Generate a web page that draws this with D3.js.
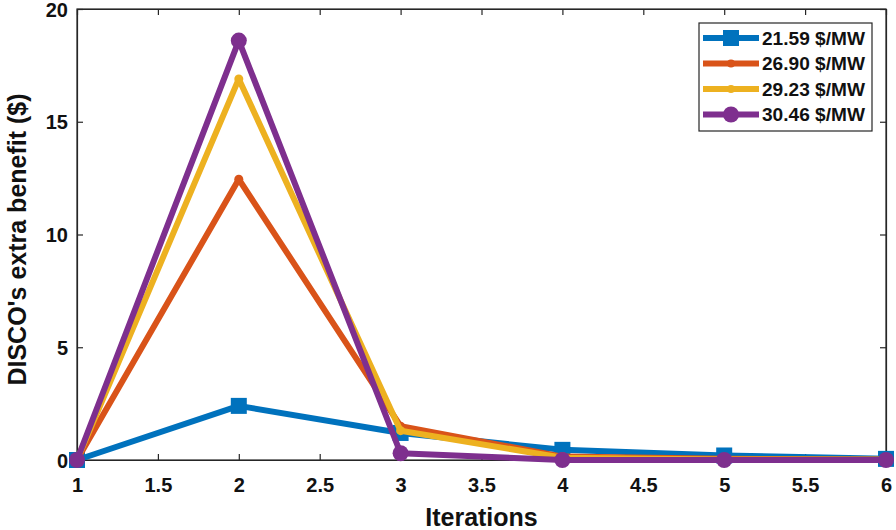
<!DOCTYPE html>
<html><head><meta charset="utf-8">
<script src="https://cdn.jsdelivr.net/npm/d3@7"></script>
<style>body{margin:0;background:#fff}svg{display:block}</style>
</head><body>
<svg id="c" width="896" height="530"></svg>
<script>
const iterations = [1, 2, 3, 4, 5, 6];
const seriesNames = ["21.59 $/MW", "26.90 $/MW", "29.23 $/MW", "30.46 $/MW"];
const s21_59 = [0, 2.4, 1.2, 0.45, 0.2, 0.05];
const s26_90 = [0, 12.45, 1.5, 0.15, 0.05, 0.02];
const s29_23 = [0, 16.9, 1.3, 0.1, 0.02, 0.01];
const s30_46 = [0, 18.6, 0.3, 0, 0, 0];
const xTicks = [1, 1.5, 2, 2.5, 3, 3.5, 4, 4.5, 5, 5.5, 6];
const yTicks = [0, 5, 10, 15, 20];
const colors = ["#0072BD", "#D95319", "#EDB120", "#7E2F8E"];
const markers = ["square", "dot", "dot", "circle"];
const allSeries = [s21_59, s26_90, s29_23, s30_46];

const svg = d3.select("#c");
const L = 77, R = 886, T = 9, B = 460;
const x = d3.scaleLinear().domain([1, 6]).range([L, R]);
const y = d3.scaleLinear().domain([0, 20]).range([B, T]);
const font = "'Liberation Sans', Arial, sans-serif";

// box
svg.append("rect").attr("x", L).attr("y", T).attr("width", R - L).attr("height", B - T)
  .attr("fill", "none").attr("stroke", "#262626").attr("stroke-width", 1.2);

// axes (inward ticks)
const xa = svg.append("g").attr("transform", `translate(0,${B})`)
  .call(d3.axisBottom(x).tickValues(xTicks).tickSizeInner(-6).tickSizeOuter(0).tickPadding(18).tickFormat(d3.format("")));
const xt = svg.append("g").attr("transform", `translate(0,${T})`)
  .call(d3.axisTop(x).tickValues(xTicks).tickSizeInner(-6).tickSizeOuter(0).tickFormat(""));
const ya = svg.append("g").attr("transform", `translate(${L},0)`)
  .call(d3.axisLeft(y).tickValues(yTicks).tickSizeInner(-6).tickSizeOuter(0).tickPadding(9));
const yr = svg.append("g").attr("transform", `translate(${R},0)`)
  .call(d3.axisRight(y).tickValues(yTicks).tickSizeInner(-6).tickSizeOuter(0).tickFormat(""));
[xa, xt, ya, yr].forEach(g => {
  g.select(".domain").attr("stroke", "#262626").attr("stroke-width", 1.2);
  g.selectAll(".tick line").attr("stroke", "#262626").attr("stroke-width", 1.2);
  g.selectAll("text").attr("font-family", font).attr("font-size", 20).attr("font-weight", "bold").attr("fill", "#111");
});
ya.selectAll("text").attr("dy", "0.35em");

// lines
const line = d3.line().x((d, i) => x(iterations[i])).y(d => y(d));
allSeries.forEach((s, k) => {
  const g = svg.append("g");
  g.append("path").datum(s).attr("d", line).attr("fill", "none")
    .attr("stroke", colors[k]).attr("stroke-width", 6).attr("stroke-linejoin", "round");
  s.forEach((v, i) => {
    const cx = x(iterations[i]), cy = y(v);
    if (markers[k] === "square") {
      g.append("rect").attr("x", cx - 8).attr("y", cy - 8).attr("width", 16).attr("height", 16).attr("fill", colors[k]);
    } else if (markers[k] === "circle") {
      g.append("circle").attr("cx", cx).attr("cy", cy).attr("r", 8).attr("fill", colors[k]);
    } else {
      g.append("circle").attr("cx", cx).attr("cy", cy).attr("r", 4.5).attr("fill", colors[k]);
    }
  });
});

// axis titles
svg.append("text").attr("x", (L + R) / 2).attr("y", 526).attr("text-anchor", "middle")
  .attr("font-family", font).attr("font-size", 25).attr("font-weight", "bold").attr("fill", "#111").text("Iterations");
svg.append("text").attr("transform", `translate(26,${(T + B) / 2 + 5}) rotate(-90)`).attr("text-anchor", "middle")
  .attr("font-family", font).attr("font-size", 25).attr("font-weight", "bold").attr("fill", "#111").text("DISCO's extra benefit ($)");

// legend
const lg = svg.append("g");
lg.append("rect").attr("x", 699).attr("y", 23).attr("width", 173).attr("height", 108)
  .attr("fill", "#fff").attr("stroke", "#262626").attr("stroke-width", 1.2);
seriesNames.forEach((n, k) => {
  const yy = 38 + k * 25.5;
  lg.append("line").attr("x1", 703).attr("x2", 759).attr("y1", yy).attr("y2", yy)
    .attr("stroke", colors[k]).attr("stroke-width", 6);
  const cx = 731;
  if (markers[k] === "square") lg.append("rect").attr("x", cx - 8).attr("y", yy - 8).attr("width", 16).attr("height", 16).attr("fill", colors[k]);
  else if (markers[k] === "circle") lg.append("circle").attr("cx", cx).attr("cy", yy).attr("r", 8).attr("fill", colors[k]);
  else lg.append("circle").attr("cx", cx).attr("cy", yy).attr("r", 4).attr("fill", colors[k]);
  lg.append("text").attr("x", 762).attr("y", yy).attr("dy", "0.36em")
    .attr("font-family", font).attr("font-size", 18.5).attr("font-weight", "bold").attr("fill", "#111")
    .attr("textLength", 103).attr("lengthAdjust", "spacingAndGlyphs").text(n);
});
</script>
</body></html>
